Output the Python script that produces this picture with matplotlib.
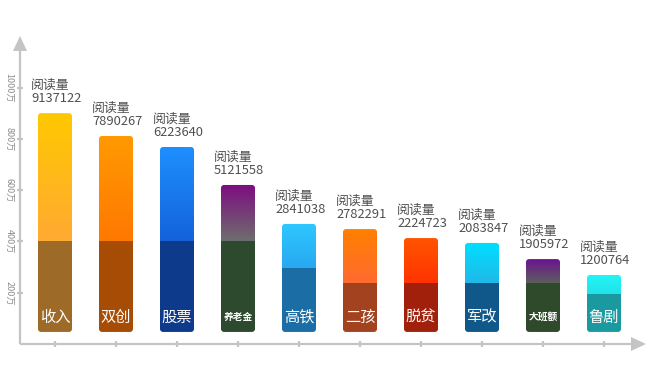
import numpy as np
import matplotlib
matplotlib.use("Agg")
import matplotlib.pyplot as plt
from matplotlib.patches import FancyBboxPatch, Rectangle, Polygon
from matplotlib.colors import LinearSegmentedColormap

plt.rcParams['font.family'] = ['Noto Sans CJK SC', 'DejaVu Sans']

# ---------------- data ----------------
categories = ['收入', '双创', '股票', '养老金', '高铁', '二孩', '脱贫', '军改', '大班额', '鲁剧']
reads = [9137122, 7890267, 6223640, 5121558, 2841038, 2782291, 2224723, 2083847, 1905972, 1200764]
# visual bar heights in 万 (the infographic is not to scale with reads)
bar_top = [900, 811, 768, 620, 468, 448, 413, 394, 331, 269]
bar_split = [400, 400, 400, 400, 296, 238, 238, 238, 238, 195]
bar_base = 47
y_ticks = [200, 400, 600, 800, 1000]
y_tick_labels = ['200万', '400万', '600万', '800万', '1000万']

top_colors = ['#FFC800', '#FF9A00', '#1E90FF', '#7D0C80', '#2EC8FF',
              '#FF8000', '#FF5500', '#00E0FF', '#6A1490', '#22F5F8']
mid_colors = ['#FFAA33', '#FF7800', '#1462DA', '#6E6E6E', '#28A8F0',
              '#FF6A30', '#FF3300', '#20B8E8', '#5E5E5E', '#22E2E8']
dark_colors = ['#9E6A28', '#A64C05', '#0D3A8A', '#2E4A2E', '#1B6DA5',
               '#A3421E', '#A0200C', '#11588A', '#2F4A2A', '#1A9AA0']
small_label = {'养老金', '大班额'}

# ---------------- figure ----------------
W, H, DPI = 650, 382, 100
fig = plt.figure(figsize=(W / DPI, H / DPI), dpi=DPI)
ax = fig.add_axes([0, 0, 1, 1])
ax.set_axis_off()

x0_px, dx_px = 55.0, 61.0      # bar centre spacing in pixels
y0_px, py_per = 344.0, 51.3 / 200.0   # baseline pixel & pixels per 万
ax.set_xlim(-x0_px / dx_px, (W - x0_px) / dx_px)
ax.set_ylim(-(H - y0_px) / py_per, y0_px / py_per)

def px2x(p):
    return (p - x0_px) / dx_px

def px2y(p):
    return (y0_px - p) / py_per

xs = np.arange(len(categories))
bw = 34 / dx_px
aspect = dx_px / py_per
grad = np.linspace(0, 1, 256).reshape(-1, 1)

axis_col = '#C4C4C4'

for i, x in enumerate(xs):
    left = x - bw / 2
    clip = FancyBboxPatch((left, bar_base), bw, bar_top[i] - bar_base,
                          boxstyle='round,pad=0,rounding_size=0.05',
                          mutation_aspect=aspect, transform=ax.transData,
                          facecolor='none', edgecolor='none')
    ax.add_patch(clip)
    cmap = LinearSegmentedColormap.from_list('g%d' % i, [mid_colors[i], top_colors[i]])
    im = ax.imshow(grad, cmap=cmap, origin='lower', aspect='auto',
                   extent=[left, left + bw, bar_split[i], bar_top[i]], zorder=2)
    im.set_clip_path(clip)
    r = Rectangle((left, bar_base), bw, bar_split[i] - bar_base,
                  facecolor=dark_colors[i], edgecolor='none', zorder=3)
    ax.add_patch(r)
    r.set_clip_path(clip)

    # category label
    fs = 7 if categories[i] in small_label else 11
    ax.text(x, px2y(317), categories[i], color='white', fontsize=fs,
            ha='center', va='center', zorder=4,
            fontweight='bold' if categories[i] in small_label else 'normal')

    # value label
    ax.annotate('阅读量\n%d' % reads[i], xy=(left, bar_top[i]),
                xytext=(-7, 8), textcoords='offset pixels',
                ha='left', va='bottom', fontsize=9.3, color='#505050',
                linespacing=1.05, zorder=4)

# axes
ax.plot([px2x(20), px2x(20)], [0, px2y(48)], color=axis_col, lw=1.6, zorder=1,
        solid_capstyle='butt')
ax.plot([px2x(20), px2x(633)], [0, 0], color=axis_col, lw=1.6, zorder=1,
        solid_capstyle='butt')
ax.add_patch(Polygon([[px2x(20), px2y(36)], [px2x(13), px2y(51)], [px2x(27), px2y(51)]],
                     closed=True, facecolor=axis_col, edgecolor='none'))
ax.add_patch(Polygon([[px2x(646), 0], [px2x(631), px2y(337)], [px2x(631), px2y(351)]],
                     closed=True, facecolor=axis_col, edgecolor='none'))

# ticks
ax.plot([px2x(20)] * len(y_ticks), y_ticks, ls='none', marker='_', ms=5,
        mew=1.6, color=axis_col)
ax.plot(xs, [0] * len(xs), ls='none', marker='|', ms=5, mew=1.6, color=axis_col)
for v, lab in zip(y_ticks, y_tick_labels):
    ax.text(px2x(9), v, lab, rotation=270, ha='center', va='center',
            fontsize=6.5, color='#8C8C8C')

fig.savefig('out.png', dpi=DPI, facecolor='white')
